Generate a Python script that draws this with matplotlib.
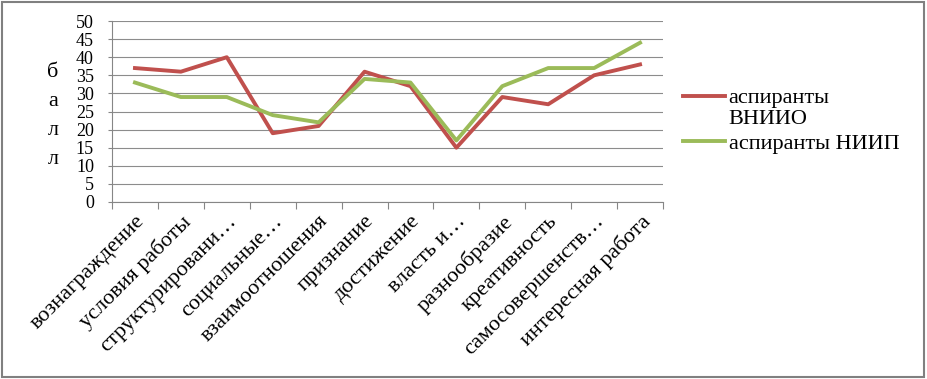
import matplotlib.pyplot as plt
import numpy as np
from matplotlib.patches import Rectangle

categories = ['вознаграждение', 'условия работы', 'структурировани…', 'социальные…',
              'взаимоотношения', 'признание', 'достижение', 'власть и…',
              'разнообразие', 'креативность', 'самосовершенств…', 'интересная работа']
vniio = [37, 36, 40, 19, 21, 36, 32, 15, 29, 27, 35, 38]
niip = [33, 29, 29, 24, 22, 34, 33, 17, 32, 37, 37, 44]
series_names = ['аспиранты\nВНИИО', 'аспиранты НИИП']
yticks = np.arange(0, 51, 5)

SERIF = 'Liberation Serif'
plt.rcParams['font.family'] = SERIF

fig = plt.figure(figsize=(9.27, 3.79), dpi=100)
ax = fig.add_axes([112/927, 1 - 202/379, (663 - 112)/927, (202 - 21)/379])

x = np.arange(len(categories))
ax.plot(x, vniio, color='#C0504D', lw=2.8, label=series_names[0], solid_joinstyle='round')
ax.plot(x, niip, color='#9BBB59', lw=2.8, label=series_names[1], solid_joinstyle='round')

ax.set_xlim(-0.5, len(categories) - 0.5)
ax.set_ylim(0, 50)
ax.set_yticks(yticks)
ax.set_yticklabels([str(v) for v in yticks], fontsize=13, family=SERIF)
ax.tick_params(axis='y', length=3, color='#868686', pad=10, width=0.8)
ax.yaxis.grid(True, color='#8c8c8c', lw=0.8)
ax.set_axisbelow(True)

ax.set_xticks(x)
ax.set_xticklabels(categories, rotation=45, ha='right', va='top',
                   rotation_mode='anchor', fontsize=16, family=SERIF)
ax.tick_params(axis='x', which='major', length=0, pad=7)
ax.set_xticks(np.arange(-0.5, len(categories)), minor=True)
ax.tick_params(axis='x', which='minor', length=5, color='#868686', width=0.8)

for s in ['top', 'right']:
    ax.spines[s].set_visible(False)
for s in ['left', 'bottom']:
    ax.spines[s].set_color('#868686')
    ax.spines[s].set_linewidth(0.8)

fig.text(53/927, 1 - 116/379, 'б\nа\nл\nл', fontsize=16, ha='center', va='center',
         linespacing=1.7, family=SERIF)

leg = fig.legend(loc='upper left', bbox_to_anchor=(683/927, 1 - 89/379), frameon=False,
                 prop={'family': SERIF, 'size': 16}, handlelength=1.9,
                 handletextpad=0.15, labelspacing=0.2, borderaxespad=0, borderpad=0)
for t in leg.get_texts():
    t.set_linespacing(1.15)
# Excel puts the handle next to the first line of a wrapped label
first = leg.get_lines()[0]
first.set_ydata(np.asarray(first.get_ydata()) + 9)

fig.patches.append(Rectangle((0.002, 0.004), 0.995, 0.99, transform=fig.transFigure,
                             fill=False, edgecolor='#808080', lw=1.5))

fig.savefig('out.png', dpi=100)
